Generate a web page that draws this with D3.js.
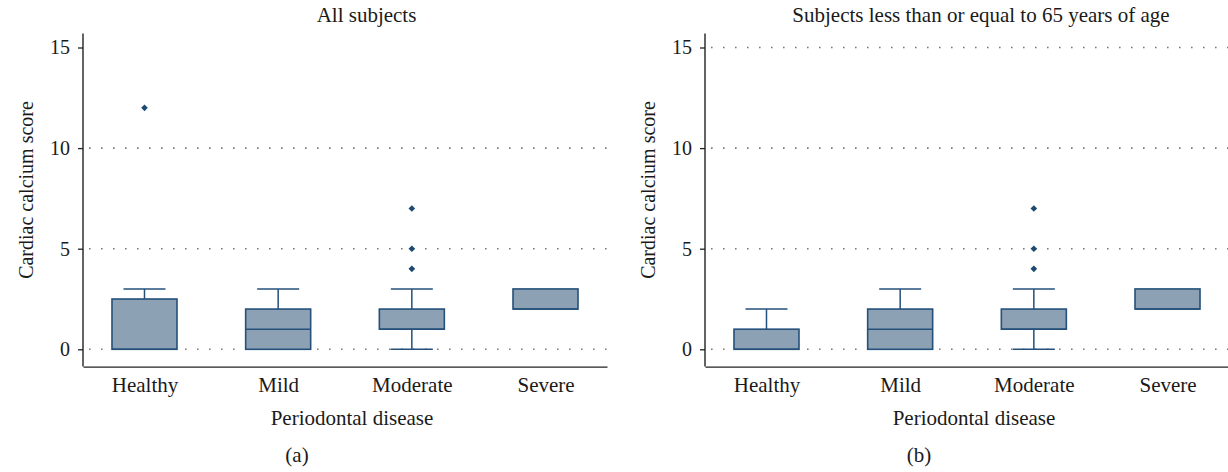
<!DOCTYPE html>
<html>
<head>
<meta charset="utf-8">
<script src="https://cdn.jsdelivr.net/npm/d3@7"></script>
<style>
  body { margin: 0; background: #fff; }
  svg text { font-family: "Liberation Serif", "Times New Roman", serif; fill: #1a1a1a; }
</style>
</head>
<body>
<div id="chart"></div>
<script>
// categories and ticks
const categories = ["Healthy", "Mild", "Moderate", "Severe"];
const yTicks = [0, 5, 10, 15];

// (a) all subjects
const allLow = [0, 0, 0, 2];
const allQ1 = [0, 0, 1, 2];
const allMedian = [0, 1, 1, 2];
const allQ3 = [2.5, 2, 2, 3];
const allHigh = [3, 3, 3, 3];
const allOutliers = [[12], [], [4, 5, 7], []];
const allGrid = [0, 5, 10];

// (b) subjects <= 65 years
const youngLow = [0, 0, 0, 2];
const youngQ1 = [0, 0, 1, 2];
const youngMedian = [0, 1, 1, 2];
const youngQ3 = [1, 2, 2, 3];
const youngHigh = [2, 3, 3, 3];
const youngOutliers = [[], [], [4, 5, 7], []];
const youngGrid = [0, 5, 10, 15];

const W = 1228, H = 472;
const fill = "#8ca1b4", stroke = "#24507a", dotColor = "#1c4a73";

var svg = d3.select("#chart").append("svg")
    .attr("width", W)
    .attr("height", H);

function makeBoxes(low, q1, med, q3, high, outl) {
    return categories.map(function (c, i) {
        return { cat: c, low: low[i], q1: q1[i], med: med[i], q3: q3[i], high: high[i], out: outl[i] };
    });
}

function drawPanel(offsetX, title, titleX, tag, boxes, grid) {
    var left = 83, plotW = 524;
    var g = svg.append("g").attr("transform", "translate(" + offsetX + ",0)");

    var x = d3.scalePoint()
        .domain(categories)
        .range([left, left + plotW])
        .padding(0.46);

    var y = d3.scaleLinear()
        .domain([0, 15])
        .range([349.3, 47.5]);

    var yBottom = y(-0.86), yTop = y(15.7);

    // dotted gridlines
    g.selectAll(".grid")
        .data(grid)
        .enter().append("line")
        .attr("x1", left + 6)
        .attr("x2", left + plotW)
        .attr("y1", d => y(d))
        .attr("y2", d => y(d))
        .attr("stroke", "#7a7a7a")
        .attr("stroke-width", 1.6)
        .attr("stroke-dasharray", "1.6,10.4");

    // y axis
    var yAxis = g.append("g")
        .attr("transform", "translate(" + left + ",0)")
        .call(d3.axisLeft(y).tickValues(yTicks).tickSize(5).tickPadding(8));
    yAxis.select(".domain").remove();
    yAxis.selectAll("line").attr("stroke", "#222").attr("stroke-width", 1.3);
    yAxis.selectAll("text").style("font-size", "20px").attr("fill", "#1a1a1a");
    g.append("line")
        .attr("x1", left).attr("x2", left)
        .attr("y1", yTop).attr("y2", yBottom)
        .attr("stroke", "#222").attr("stroke-width", 1.4);

    // x axis
    var xAxis = g.append("g")
        .attr("transform", "translate(0," + yBottom + ")")
        .call(d3.axisBottom(x).tickSize(0).tickSizeOuter(0).tickPadding(10));
    xAxis.select(".domain").attr("stroke", "#222").attr("stroke-width", 1.4);
    xAxis.selectAll("text").style("font-size", "21px").attr("fill", "#1a1a1a");

    var bw = 65, cw = 42;

    var box = g.selectAll(".box")
        .data(boxes)
        .enter().append("g")
        .attr("transform", d => "translate(" + x(d.cat) + ",0)");

    // whiskers
    box.filter(d => d.high > d.q3).append("line")
        .attr("x1", 0).attr("x2", 0)
        .attr("y1", d => y(d.q3)).attr("y2", d => y(d.high))
        .attr("stroke", stroke).attr("stroke-width", 1.5);
    box.filter(d => d.high > d.q3).append("line")
        .attr("x1", -cw / 2).attr("x2", cw / 2)
        .attr("y1", d => y(d.high)).attr("y2", d => y(d.high))
        .attr("stroke", stroke).attr("stroke-width", 1.5);
    box.filter(d => d.low < d.q1).append("line")
        .attr("x1", 0).attr("x2", 0)
        .attr("y1", d => y(d.q1)).attr("y2", d => y(d.low))
        .attr("stroke", stroke).attr("stroke-width", 1.5);
    box.filter(d => d.low < d.q1).append("line")
        .attr("x1", -cw / 2).attr("x2", cw / 2)
        .attr("y1", d => y(d.low)).attr("y2", d => y(d.low))
        .attr("stroke", stroke).attr("stroke-width", 1.5);

    // box
    box.append("rect")
        .attr("x", -bw / 2)
        .attr("width", bw)
        .attr("y", d => y(d.q3))
        .attr("height", d => y(d.q1) - y(d.q3))
        .attr("fill", fill)
        .attr("stroke", stroke)
        .attr("stroke-width", 1.6);

    // median
    box.append("line")
        .attr("x1", -bw / 2).attr("x2", bw / 2)
        .attr("y1", d => y(d.med)).attr("y2", d => y(d.med))
        .attr("stroke", stroke).attr("stroke-width", 1.6);

    // outliers (small diamonds)
    box.selectAll("path.out")
        .data(d => d.out)
        .enter().append("path")
        .attr("class", "out")
        .attr("transform", d => "translate(0," + y(d) + ") rotate(45)")
        .attr("d", d3.symbol(d3.symbolSquare, 22))
        .attr("fill", dotColor);

    // titles
    g.append("text")
        .attr("x", titleX).attr("y", 22)
        .attr("text-anchor", "middle")
        .style("font-size", "21px")
        .text(title);

    g.append("text")
        .attr("transform", "translate(33,190) rotate(-90)")
        .attr("text-anchor", "middle")
        .style("font-size", "20px")
        .text("Cardiac calcium score");

    g.append("text")
        .attr("x", 352).attr("y", 425)
        .attr("text-anchor", "middle")
        .style("font-size", "21px")
        .text("Periodontal disease");

    g.append("text")
        .attr("x", 297).attr("y", 462)
        .attr("text-anchor", "middle")
        .style("font-size", "21px")
        .text(tag);
}

drawPanel(0, "All subjects", 366.5, "(a)",
    makeBoxes(allLow, allQ1, allMedian, allQ3, allHigh, allOutliers), allGrid);
drawPanel(622, "Subjects less than or equal to 65 years of age", 359, "(b)",
    makeBoxes(youngLow, youngQ1, youngMedian, youngQ3, youngHigh, youngOutliers), youngGrid);
</script>
</body>
</html>
